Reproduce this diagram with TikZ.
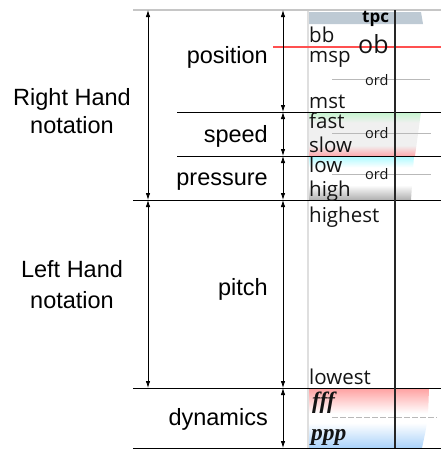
\documentclass[tikz,border=0pt]{standalone}
\usepackage{fontspec}
\setmainfont{Liberation Sans}
\newfontfamily\hum{Open Sans}
\newfontfamily\dyn{Liberation Serif}
\usetikzlibrary{arrows.meta}
\definecolor{tpcblue}{RGB}{190,202,212}
\definecolor{sgreen}{RGB}{195,245,205}
\definecolor{sred}{RGB}{255,168,172}
\definecolor{smid}{RGB}{240,240,240}
\definecolor{pcyan}{RGB}{170,250,255}
\definecolor{pgray}{RGB}{175,175,175}
\definecolor{dred}{RGB}{255,160,160}
\definecolor{dblue}{RGB}{170,210,250}
\definecolor{redline}{RGB}{255,80,80}
\definecolor{txt}{RGB}{20,20,20}
\pgfdeclareverticalshading{speedsh}{100bp}{color(0bp)=(sred); color(25bp)=(sred); color(37bp)=(smid); color(63bp)=(smid); color(75bp)=(sgreen); color(100bp)=(sgreen)}
\pgfdeclareverticalshading{pressh}{100bp}{color(0bp)=(pgray); color(25bp)=(pgray); color(42bp)=(white); color(62bp)=(white); color(75bp)=(pcyan); color(100bp)=(pcyan)}
\pgfdeclareverticalshading{dynsh}{100bp}{color(0bp)=(dblue); color(25bp)=(dblue); color(46bp)=(white); color(54bp)=(white); color(75bp)=(dred); color(100bp)=(dred)}
\tikzset{
  dimarrow/.style={line width=0.8pt, {Latex[length=7pt,width=4.5pt]}-{Latex[length=7pt,width=4.5pt]}},
  rule/.style={line width=0.8pt},
  bigrule/.style={line width=1pt},
  ordline/.style={gray!55, line width=0.7pt},
  biglabel/.style={font=\fontsize{23.5}{28}\selectfont, inner sep=0pt, anchor=base},
  catlabel/.style={font=\fontsize{23.5}{28}\selectfont, inner sep=0pt, anchor=base east},
  vallabel/.style={font=\hum\fontsize{20.5}{24}\selectfont, text=txt, inner sep=0pt, anchor=base west},
  ordlabel/.style={font=\hum\fontsize{14.5}{16}\selectfont, text=txt, inner sep=0pt, anchor=base west},
  dynlabel/.style={font=\dyn\bfseries\itshape\fontsize{23.5}{26}\selectfont, text=txt, inner sep=0pt, anchor=base west},
}
\begin{document}
\begin{tikzpicture}[x=1pt,y=-1pt]
\useasboundingbox (0,0) rectangle (441,450);
% shaded areas
\fill[tpcblue] (307,12) -- (421,12) -- (423,24) -- (307,24) -- cycle;
\shade[shading=speedsh] (307,112) -- (421,112) -- (415,156) -- (307,156) -- cycle;
\shade[shading=pressh] (307,156) -- (414,156) -- (411,200) -- (307,200) -- cycle;
\shade[shading=dynsh] (307,388) -- (429,388) .. controls (428,420) .. (422,448) -- (307,448) -- cycle;
% left edge of value column
\draw[gray!25, line width=2pt] (308,10) -- (308,448);
% horizontal rules
\draw[gray!45, line width=2pt] (133,9.5) -- (441,9.5);
\draw[rule] (177,112) -- (441,112);
\draw[rule] (177,156) -- (441,156);
\draw[bigrule] (133,200) -- (441,200);
\draw[bigrule] (133,388) -- (441,388);
\draw[bigrule] (133,448) -- (441,448);
\draw[redline, line width=1.2pt] (273,47) -- (441,47);
% ord lines
\draw[ordline] (332,79) -- (430,79);
\draw[ordline] (332,133) -- (431,133);
\draw[ordline] (332,174) -- (431,174);
\draw[ordline, dashed, dash pattern=on 6pt off 2pt] (332,417) -- (437,417);
% vertical black line
\draw[black!85, line width=1.4pt] (395,10) -- (395,448);
% dimension coordinates
\coordinate (L0) at (148,10);
\coordinate (L1) at (148,200);
\coordinate (L2) at (148,388);
\coordinate (R0) at (283,10);
\coordinate (R1) at (283,112);
\coordinate (R2) at (283,156);
\coordinate (R3) at (283,200);
\coordinate (R4) at (283,388);
\coordinate (R5) at (283,448);
\draw[dimarrow] (L0) -- (L1);
\draw[dimarrow] (L1) -- (L2);
\draw[dimarrow] (R0) -- (R1);
\draw[dimarrow] (R1) -- (R2);
\draw[dimarrow] (R2) -- (R3);
\draw[dimarrow] (R3) -- (R4);
\draw[dimarrow] (R4) -- (R5);
% left labels
\node[biglabel] (rh1) at (72,105) {Right Hand};
\node[biglabel] (rh2) at (72,133) {notation};
\node[biglabel] (lh1) at (72,277) {Left Hand};
\node[biglabel] (lh2) at (72,308) {notation};
% category labels
\node[catlabel] (pos) at (268,63) {position};
\node[catlabel] (spd) at (268,142) {speed};
\node[catlabel] (prs) at (268,185) {pressure};
\node[catlabel] (pit) at (268,295) {pitch};
\node[catlabel] (dynm) at (268,425) {dynamics};
% value labels
\node[ordlabel, font=\hum\bfseries\fontsize{17}{20}\selectfont, text=black] (tpc) at (362,22) {tpc};
\node[vallabel] (bb) at (309,42) {bb};
\node[vallabel, font=\hum\fontsize{25}{27}\selectfont] (ob) at (358,53) {ob};
\node[vallabel] (msp) at (309,62) {msp};
\node[ordlabel] (ord1) at (365,85) {ord};
\node[vallabel] (mst) at (309,108) {mst};
\node[vallabel] (fast) at (309,128) {fast};
\node[ordlabel] (ord2) at (365,138) {ord};
\node[vallabel] (slow) at (309,152) {slow};
\node[vallabel] (low) at (309,172) {low};
\node[ordlabel] (ord3) at (365,179) {ord};
\node[vallabel] (high) at (309,196) {high};
\node[vallabel] (highest) at (309,222) {highest};
\node[vallabel] (lowest) at (309,384) {lowest};
\node[dynlabel] (fff) at (312,408) {fff};
\node[dynlabel] (ppp) at (311,440) {ppp};
\end{tikzpicture}
\end{document}
